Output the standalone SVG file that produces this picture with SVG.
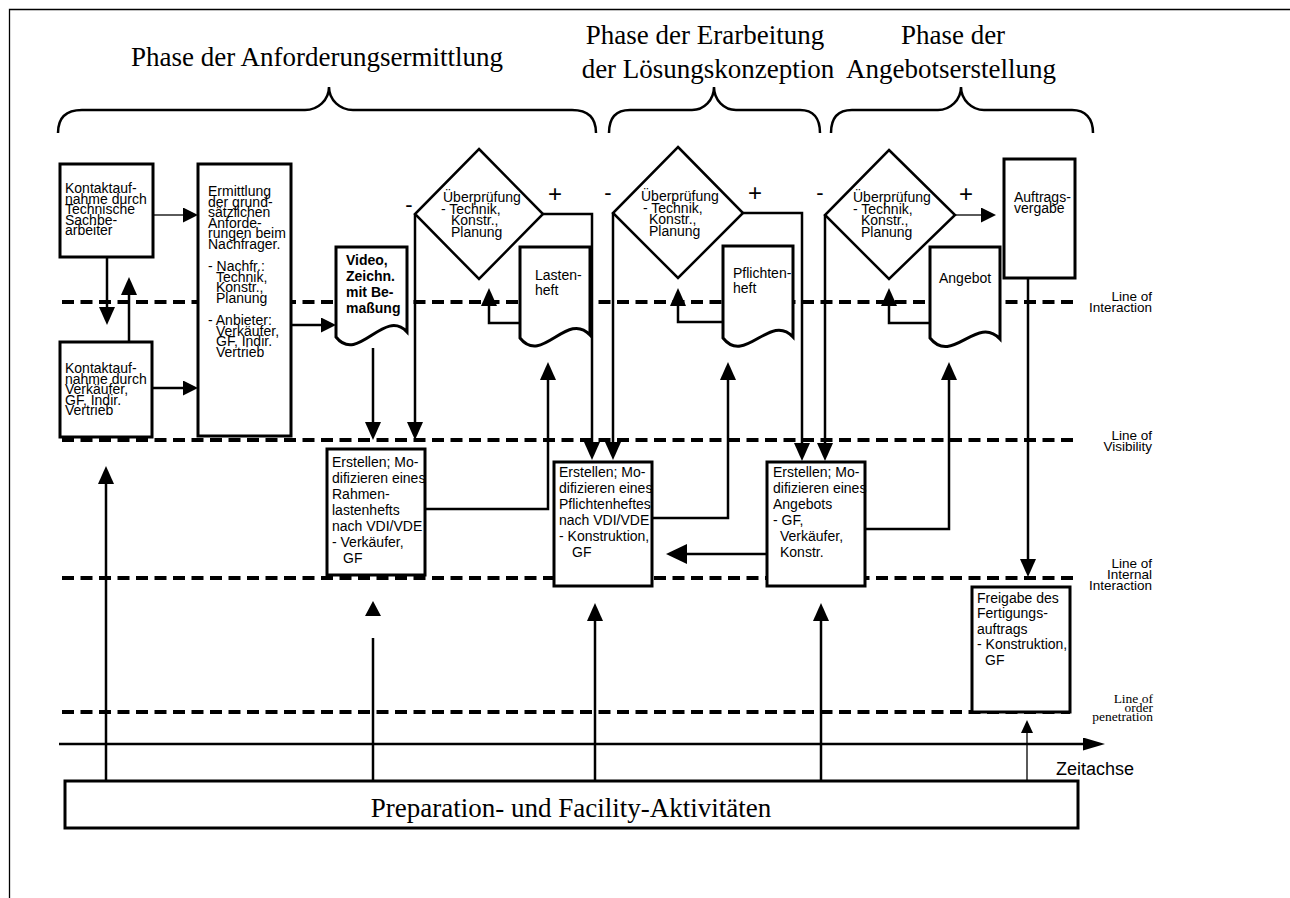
<svg xmlns="http://www.w3.org/2000/svg" width="1290" height="898" viewBox="0 0 1290 898">
<style>
.t{font-family:"Liberation Sans",Arial,sans-serif;font-size:14px;fill:#000}
.b{font-weight:bold}
.s{font-family:"Liberation Serif","Times New Roman",serif;fill:#000}
.lbl{font-family:"Liberation Sans",Arial,sans-serif;font-size:13.5px;text-anchor:end;fill:#000}
.box{fill:#fff;stroke:#000;stroke-width:3}
.dia{fill:#fff;stroke:#000;stroke-width:2.5}
.c{fill:none;stroke:#000;stroke-width:2.5}
.thin{fill:none;stroke:#000;stroke-width:1.3}
.dash{fill:none;stroke:#000;stroke-width:4;stroke-dasharray:12 6.5}
.br{fill:none;stroke:#000;stroke-width:2.5}
.sg{font-family:"Liberation Sans",Arial,sans-serif;text-anchor:middle;fill:#000}
</style>
<defs>
<marker id="a" viewBox="0 0 18 16" markerWidth="18" markerHeight="16" refX="1" refY="8" orient="auto" markerUnits="userSpaceOnUse"><path d="M0,0 L18,8 L0,16 z"/></marker>
<marker id="s" viewBox="0 0 15 15" markerWidth="15" markerHeight="15" refX="1" refY="7.5" orient="auto" markerUnits="userSpaceOnUse"><path d="M0,0 L15,7.5 L0,15 z"/></marker>
<marker id="b" viewBox="0 0 21 20" markerWidth="21" markerHeight="20" refX="1" refY="10" orient="auto" markerUnits="userSpaceOnUse"><path d="M0,0 L21,10 L0,20 z"/></marker>
<marker id="tm" viewBox="0 0 22 13" markerWidth="22" markerHeight="13" refX="1" refY="6.5" orient="auto" markerUnits="userSpaceOnUse"><path d="M0,0 L22,6.5 L0,13 z"/></marker>
<marker id="o" viewBox="0 0 13 12" markerWidth="13" markerHeight="12" refX="1" refY="6" orient="auto" markerUnits="userSpaceOnUse"><path d="M0,0 L13,6 L0,12 z"/></marker>
</defs>
<rect width="1290" height="898" fill="#fff"/>
<path d="M9.5,898 V9.5 H1290" fill="none" stroke="#000" stroke-width="1.3"/>

<g id="phases">
<text class="s" x="317" y="66" font-size="27" text-anchor="middle">Phase der Anforderungsermittlung</text>
<text class="s" x="705" y="44" font-size="27" text-anchor="middle">Phase der Erarbeitung</text>
<text class="s" x="708" y="78" font-size="27" text-anchor="middle">der Lösungskonzeption</text>
<text class="s" x="953" y="44" font-size="27" text-anchor="middle">Phase der</text>
<text class="s" x="951" y="78" font-size="27" text-anchor="middle">Angebotserstellung</text>
<path class="br" d="M58,133 C58,118 66,110 82,110 L305,110 C318,110 329,100 329,87 C329,100 340,110 353,110 L572,110 C588,110 596,118 596,133"/>
<path class="br" d="M609,133 C609,118 616,110 630,110 L692,110 C704,110 714,100 714,87 C714,100 724,110 736,110 L800,110 C813,110 820,118 820,133"/>
<path class="br" d="M831,133 C831,118 838,110 852,110 L938,110 C950,110 961,100 961,87 C961,100 972,110 984,110 L1072,110 C1085,110 1093,118 1093,133"/>
</g>

<g id="lines">
<path class="dash" d="M62,302 H1073"/>
<path class="dash" d="M62,440 H1073"/>
<path class="dash" d="M62,578 H1073"/>
<path class="dash" d="M62,712 H1070"/>
<text class="lbl" x="1152" y="301">Line of</text>
<text class="lbl" x="1152" y="312">Interaction</text>
<text class="lbl" x="1152" y="440">Line of</text>
<text class="lbl" x="1152" y="451">Visibility</text>
<text class="lbl" x="1152" y="568">Line of</text>
<text class="lbl" x="1152" y="579">Internal</text>
<text class="lbl" x="1152" y="590">Interaction</text>
<text class="s" x="1153" y="703" font-size="13.5" text-anchor="end">Line of</text>
<text class="s" x="1153" y="712" font-size="13.5" text-anchor="end">order</text>
<text class="s" x="1153" y="721" font-size="13.5" text-anchor="end">penetration</text>
<text class="t" x="1056" y="775" font-size="18" style="font-size:18px">Zeitachse</text>
</g>

<g id="connectors">
<path class="thin" d="M153,215 H184" marker-end="url(#s)"/>
<path class="c" d="M152,388 H184" marker-end="url(#s)"/>
<path class="c" d="M107,257 V308" marker-end="url(#a)"/>
<path class="c" d="M129,342 V294" marker-end="url(#a)"/>
<path class="c" d="M291,325 H322" marker-end="url(#s)"/>
<path class="c" d="M373,348 V423" marker-end="url(#a)"/>
<path class="c" d="M415,214 V423" marker-end="url(#a)"/>
<path class="c" d="M543,214 H592 V443" marker-end="url(#a)"/>
<path class="c" d="M520,323 H489 V305" marker-end="url(#a)"/>
<path class="c" d="M425,509 H548 V379" marker-end="url(#a)"/>
<path class="c" d="M613,213 V443" marker-end="url(#a)"/>
<path class="c" d="M743,213 H802 V444" marker-end="url(#a)"/>
<path class="c" d="M723,322 H678 V305" marker-end="url(#a)"/>
<path class="c" d="M652,518 H728 V379" marker-end="url(#a)"/>
<path class="c" d="M767,554 H686" stroke-width="3" marker-end="url(#b)"/>
<path class="c" d="M825,215 V444" marker-end="url(#a)"/>
<path class="thin" d="M955,215 H982" marker-end="url(#s)"/>
<path class="c" d="M930,323 H889 V305" marker-end="url(#a)"/>
<path class="c" d="M865,529 H949 V379" marker-end="url(#a)"/>
<path class="c" d="M1028,278 V560" marker-end="url(#a)"/>
<path class="c" d="M106,781 V483" stroke-width="2" marker-end="url(#a)"/>
<path class="c" d="M373,781 V638" stroke-width="2"/>
<polygon points="373,601 381,616 365,616"/>
<path class="c" d="M595,781 V620" stroke-width="3" marker-end="url(#a)"/>
<path class="c" d="M821,781 V620" stroke-width="3" marker-end="url(#a)"/>
<path class="thin" d="M1027,781 V732" marker-end="url(#o)"/>
<path class="c" d="M59,744 H1084" stroke-width="4" marker-end="url(#tm)"/>
</g>

<g id="n-kontakt1">
<rect class="box" x="60" y="164" width="93" height="93"/>
<text class="t"><tspan x="65" y="193">Kontaktauf-</tspan><tspan x="65" y="203.5">nahme durch</tspan><tspan x="65" y="214">Technische</tspan><tspan x="65" y="224.5">Sachbe-</tspan><tspan x="65" y="235">arbeiter</tspan></text>
</g>
<g id="n-kontakt2">
<rect class="box" x="60" y="342" width="92" height="95"/>
<text class="t"><tspan x="65" y="373">Kontaktauf-</tspan><tspan x="65" y="383.5">nahme durch</tspan><tspan x="65" y="394">Verkäufer,</tspan><tspan x="65" y="404.5">GF, Indir.</tspan><tspan x="65" y="415">Vertrieb</tspan></text>
</g>
<g id="n-ermittlung">
<rect class="box" x="198" y="164" width="93" height="272"/>
<text class="t"><tspan x="208" y="196">Ermittlung</tspan><tspan x="208" y="206.5">der grund-</tspan><tspan x="208" y="217">sätzlichen</tspan><tspan x="208" y="227.5">Anforde-</tspan><tspan x="208" y="238">rungen beim</tspan><tspan x="208" y="248.5">Nachfrager.</tspan><tspan x="208" y="271">- Nachfr.:</tspan><tspan x="216" y="281.5">Technik,</tspan><tspan x="216" y="292">Konstr.,</tspan><tspan x="216" y="302.5">Planung</tspan><tspan x="208" y="325">- Anbieter:</tspan><tspan x="216" y="335.5">Verkäufer,</tspan><tspan x="216" y="346">GF, Indir.</tspan><tspan x="216" y="356.5">Vertrieb</tspan></text>
</g>
<g id="n-video">
<path class="box" d="M336,337 V247 H407 V332 C384,307 358,365 336,337 Z"/>
<text class="t b"><tspan x="346" y="265">Video,</tspan><tspan x="346" y="281">Zeichn.</tspan><tspan x="346" y="297">mit Be-</tspan><tspan x="346" y="313">maßung</tspan></text>
</g>
<g id="n-pruef1">
<polygon class="dia" points="479,149 543,214 479,279 415,214"/>
<text class="t"><tspan x="443" y="202">Überprüfung</tspan><tspan x="441" y="213.5">- Technik,</tspan><tspan x="451" y="225">Konstr.,</tspan><tspan x="451" y="236.5">Planung</tspan></text>
<text class="sg" x="409" y="212" font-size="22">-</text>
<text class="sg" x="555" y="202" font-size="24">+</text>
</g>
<g id="n-lastenheft">
<path class="box" d="M520,338 V247 H590 V335 C567,310 542,366 520,338 Z"/>
<text class="t"><tspan x="535" y="280">Lasten-</tspan><tspan x="535" y="295">heft</tspan></text>
</g>
<g id="n-rahmen">
<rect class="box" x="327" y="449" width="98" height="126"/>
<text class="t"><tspan x="332" y="467">Erstellen; Mo-</tspan><tspan x="332" y="483">difizieren eines</tspan><tspan x="332" y="499">Rahmen-</tspan><tspan x="332" y="515">lastenhefts</tspan><tspan x="332" y="531">nach VDI/VDE</tspan><tspan x="332" y="547">- Verkäufer,</tspan><tspan x="343" y="563">GF</tspan></text>
</g>
<g id="n-pruef2">
<polygon class="dia" points="678,147 743,213 678,278 613,213"/>
<text class="t"><tspan x="641" y="201">Überprüfung</tspan><tspan x="643" y="212.5">- Technik,</tspan><tspan x="649" y="224">Konstr.,</tspan><tspan x="649" y="235.5">Planung</tspan></text>
<text class="sg" x="608" y="200" font-size="22">-</text>
<text class="sg" x="755" y="201" font-size="24">+</text>
</g>
<g id="n-pflichtenheft">
<path class="box" d="M723,338 V246 H793 V337 C770,312 745,366 723,338 Z"/>
<text class="t"><tspan x="733" y="278">Pflichten-</tspan><tspan x="733" y="293">heft</tspan></text>
</g>
<g id="n-pflichtenheft-erstellen">
<rect class="box" x="554" y="462" width="98" height="124"/>
<text class="t"><tspan x="559" y="477">Erstellen; Mo-</tspan><tspan x="559" y="493">difizieren eines</tspan><tspan x="559" y="509">Pflichtenheftes</tspan><tspan x="559" y="525">nach VDI/VDE</tspan><tspan x="559" y="541">- Konstruktion,</tspan><tspan x="572" y="557">GF</tspan></text>
</g>
<g id="n-pruef3">
<polygon class="dia" points="889,150 955,215 889,279 825,215"/>
<text class="t"><tspan x="853" y="202">Überprüfung</tspan><tspan x="853" y="213.5">- Technik,</tspan><tspan x="861" y="225">Konstr.,</tspan><tspan x="861" y="236.5">Planung</tspan></text>
<text class="sg" x="820" y="200" font-size="22">-</text>
<text class="sg" x="966" y="202" font-size="24">+</text>
</g>
<g id="n-angebot">
<path class="box" d="M930,338 V247 H1000 V339 C977,314 952,366 930,338 Z"/>
<text class="t" x="939" y="283">Angebot</text>
</g>
<g id="n-angebot-erstellen">
<rect class="box" x="767" y="462" width="98" height="124"/>
<text class="t"><tspan x="773" y="477">Erstellen; Mo-</tspan><tspan x="773" y="493">difizieren eines</tspan><tspan x="773" y="509">Angebots</tspan><tspan x="773" y="525">- GF,</tspan><tspan x="780" y="541">Verkäufer,</tspan><tspan x="780" y="557">Konstr.</tspan></text>
</g>
<g id="n-auftragsvergabe">
<rect class="box" x="1004" y="159" width="71" height="119"/>
<text class="t"><tspan x="1014" y="202">Auftrags-</tspan><tspan x="1014" y="213">vergabe</tspan></text>
</g>
<g id="n-freigabe">
<rect class="box" x="972" y="587" width="98" height="125"/>
<text class="t"><tspan x="977" y="603">Freigabe des</tspan><tspan x="977" y="618">Fertigungs-</tspan><tspan x="977" y="634">auftrags</tspan><tspan x="977" y="649">- Konstruktion,</tspan><tspan x="985" y="665">GF</tspan></text>
</g>
<g id="n-preparation">
<rect class="box" x="65" y="781" width="1013" height="47" stroke-width="2.5"/>
<text class="s" x="571" y="817" font-size="27" text-anchor="middle">Preparation- und Facility-Aktivitäten</text>
</g>
</svg>
